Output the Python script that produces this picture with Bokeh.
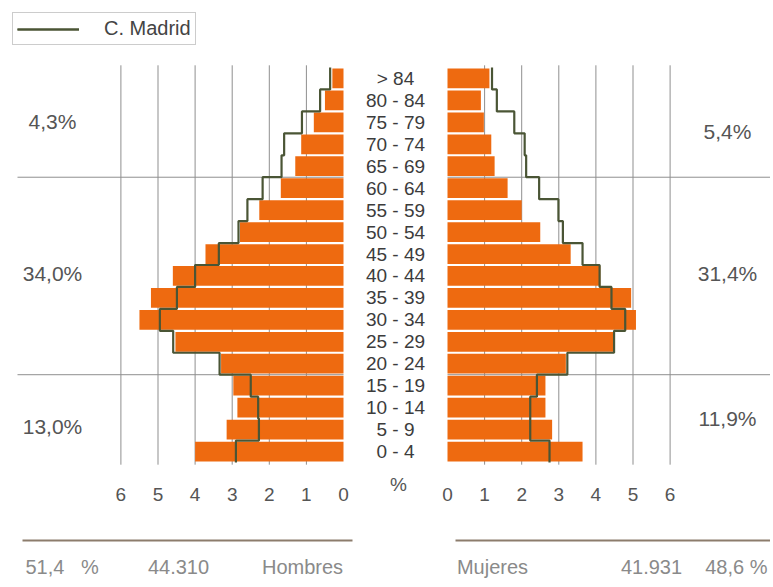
from bokeh.plotting import figure
from bokeh.models import Range1d, ColumnDataSource, Legend, LegendItem
from bokeh.core.properties import value
from bokeh.embed import file_html
from bokeh.resources import INLINE

# ---------------- data ----------------
ages = ["0 - 4", "5 - 9", "10 - 14", "15 - 19", "20 - 24", "25 - 29", "30 - 34",
        "35 - 39", "40 - 44", "45 - 49", "50 - 54", "55 - 59", "60 - 64",
        "65 - 69", "70 - 74", "75 - 79", "80 - 84", "> 84"]
hombres = [4.00, 3.15, 2.86, 2.97, 3.30, 4.53, 5.50, 5.19, 4.60, 3.72, 2.79,
           2.27, 1.69, 1.30, 1.14, 0.80, 0.50, 0.30]
mujeres = [3.64, 2.82, 2.64, 2.64, 3.19, 4.49, 5.08, 4.95, 4.12, 3.32, 2.50,
           2.00, 1.62, 1.27, 1.18, 0.98, 0.90, 1.13]
madrid_h = [2.90, 2.28, 2.30, 2.50, 3.34, 4.59, 4.95, 4.49, 4.00, 3.36, 2.83,
            2.59, 2.18, 1.67, 1.60, 1.12, 0.63, 0.36]
madrid_m = [2.75, 2.23, 2.23, 2.41, 3.23, 4.49, 4.79, 4.42, 4.10, 3.64, 3.11,
            2.99, 2.47, 2.12, 2.08, 1.80, 1.33, 1.20]
tick_values = [0, 1, 2, 3, 4, 5, 6]
tick_labels = ["0", "1", "2", "3", "4", "5", "6"]
pct_left = ["4,3%", "34,0%", "13,0%"]
pct_right = ["5,4%", "31,4%", "11,9%"]
group_breaks = [3.5, 12.5]   # between 15-19/20-24 and 60-64/65-69
totals_left = ["51,4\u00a0\u00a0\u00a0%", "44.310", "Hombres"]
totals_right = ["Mujeres", "41.931", "48,6\u00a0%"]
legend_label = "C. Madrid"

# ---------------- layout constants ----------------
W, H = 770, 585
S = 37.1           # px per percent unit
BAND = 21.944      # px per age band
CX = 395           # px of centre
GAP = 52 / S       # half gap between the two pyramids (data units)
Y_TOP = 17.5 + 67 / BAND

def dx(px):
    return (px - CX) / S

def dy(py):
    return Y_TOP - py / BAND

FONT = value("Liberation Sans")
ORANGE = "#ee6a10"
LINE = "#4a5535"

p = figure(width=W, height=H, output_backend="svg", toolbar_location=None,
           x_range=Range1d(dx(0), dx(W)), y_range=Range1d(dy(H), dy(0)),
           x_axis_location=None, y_axis_location=None, min_border=0,
           background_fill_color="white", border_fill_color="white")
p.outline_line_color = None
p.xgrid.visible = False
p.ygrid.visible = False

idx = list(range(len(ages)))

# vertical grid lines
gx = [-(v + GAP) for v in tick_values[1:]] + [(v + GAP) for v in tick_values[1:]]
p.segment(x0=gx, x1=gx, y0=[-0.6] * len(gx), y1=[17.6] * len(gx),
          line_color="#8f8f8f", line_width=1)

# horizontal group lines
for b in group_breaks:
    p.segment(x0=[dx(17), GAP], x1=[-GAP, dx(771)], y0=[b, b], y1=[b, b],
              line_color="#8f8f8f", line_width=1)

# bars
src = ColumnDataSource(dict(
    y=idx,
    hl=[-(v + GAP) for v in hombres], hr=[-GAP] * len(idx),
    ml=[GAP] * len(idx), mr=[v + GAP for v in mujeres]))
p.hbar(y="y", left="hl", right="hr", height=0.9, source=src,
       fill_color=ORANGE, line_color=None)
p.hbar(y="y", left="ml", right="mr", height=0.9, source=src,
       fill_color=ORANGE, line_color=None)

# Comunidad de Madrid step outlines
def step_path(vals, sign):
    xs, ys = [], []
    for i in reversed(idx):
        x = sign * (vals[i] + GAP)
        xs += [x, x]
        ys += [i + 0.5, i - 0.5]
    return xs, ys

lx, ly = step_path(madrid_h, -1)
rx, ry = step_path(madrid_m, 1)
r1 = p.line(lx, ly, line_color=LINE, line_width=2.2)
r2 = p.line(rx, ry, line_color=LINE, line_width=2.2)

# age labels
p.text(x=[0] * len(idx), y=idx, text=ages, text_align="center",
       text_baseline="middle", text_font=FONT, text_font_size="19px",
       text_color="#3c3c3c")

# tick labels
ty = dy(494)
p.text(x=[-(v + GAP) for v in tick_values], y=[ty] * len(tick_values),
       text=tick_labels, text_align="center", text_baseline="middle",
       text_font=FONT, text_font_size="19px", text_color="#555555")
p.text(x=[(v + GAP) for v in tick_values], y=[ty] * len(tick_values),
       text=tick_labels, text_align="center", text_baseline="middle",
       text_font=FONT, text_font_size="19px", text_color="#555555")
p.text(x=[dx(398)], y=[dy(484)], text=["%"], text_align="center",
       text_baseline="middle", text_font=FONT, text_font_size="19px",
       text_color="#555555")

# group percentages
p.text(x=[dx(52)] * 3, y=[dy(121), dy(273), dy(426)], text=pct_left,
       text_align="center", text_baseline="middle", text_font=FONT,
       text_font_size="21px", text_color="#555555")
p.text(x=[dx(727)] * 3, y=[dy(131), dy(273), dy(418)], text=pct_right,
       text_align="center", text_baseline="middle", text_font=FONT,
       text_font_size="21px", text_color="#555555")

# bottom totals
p.segment(x0=[dx(22), dx(455)], x1=[dx(352), dx(772)], y0=[dy(540)] * 2,
          y1=[dy(540)] * 2, line_color="#8c7c6c", line_width=2)
by = dy(566)
p.text(x=[dx(25)], y=[by], text=[totals_left[0]], text_align="left",
       text_baseline="middle", text_font=FONT, text_font_size="20px",
       text_color="#8a8a8a")
p.text(x=[dx(178), dx(302)], y=[by, by], text=totals_left[1:],
       text_align="center", text_baseline="middle", text_font=FONT,
       text_font_size="20px", text_color="#8a8a8a")
p.text(x=[dx(492), dx(651)], y=[by, by], text=totals_right[:2],
       text_align="center", text_baseline="middle", text_font=FONT,
       text_font_size="20px", text_color="#8a8a8a")
p.text(x=[dx(767)], y=[by], text=[totals_right[2]], text_align="right",
       text_baseline="middle", text_font=FONT, text_font_size="20px",
       text_color="#8a8a8a")

# legend
legend = Legend(items=[LegendItem(label=legend_label, renderers=[r1, r2])],
                location=(12, H - 45), orientation="vertical",
                glyph_width=62, glyph_height=20, label_standoff=25,
                padding=4, margin=0, spacing=0,
                label_text_font="Liberation Sans", label_text_font_size="20px",
                label_text_color="#444444", label_height=20,
                border_line_color="#9a9a9a", border_line_width=1,
                background_fill_color="white", background_fill_alpha=1.0)
p.add_layout(legend, "center")

open("out.html", "w").write(file_html(p, INLINE))
